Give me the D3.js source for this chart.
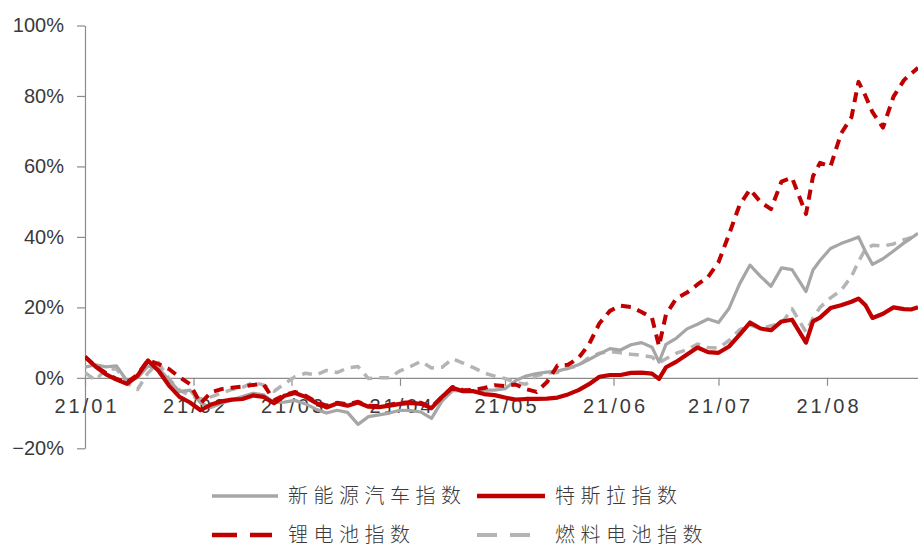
<!DOCTYPE html>
<html>
<head>
<meta charset="utf-8">
<script src="https://cdn.jsdelivr.net/npm/d3@7"></script>
<style>
  html, body { margin: 0; padding: 0; background: #fff; }
  svg { display: block; }
</style>
</head>
<body>
<svg id="chart" width="918" height="551"></svg>
<script>
// Sample dates (2021, MM-DD)
const dates = [
  "01-01","01-04","01-07","01-10","01-13","01-16","01-19","01-22","01-25","01-28","01-31",
  "02-03","02-06","02-09","02-12","02-15","02-18","02-21","02-24","02-27",
  "03-02","03-05","03-08","03-11","03-14","03-17","03-20","03-23","03-26","03-29",
  "04-01","04-04","04-07","04-10","04-13","04-16","04-19","04-22","04-25","04-28",
  "05-01","05-04","05-07","05-10","05-13","05-16","05-19","05-22","05-25","05-28","05-31",
  "06-03","06-06","06-09","06-12","06-14","06-16","06-19","06-22","06-25","06-28",
  "07-01","07-04","07-07","07-10","07-13","07-16","07-19","07-22","07-26","07-28","07-30",
  "08-02","08-05","08-08","08-10","08-12","08-14","08-17","08-20","08-23","08-25","08-27"
];

// Cumulative change, %
const nevIndex = [
  3, 3.7, 3.1, 3.4, -0.9, 0, 3.3, 2.7, -0.6, -3.9, -3.5,
  -7.1, -8.4, -7.2, -6.2, -5.3, -4.4, -4.8, -7.0, -6.9,
  -6.4, -7.4, -8.9, -10.0, -9.2, -9.8, -13.2, -11.0, -10.5, -10.0,
  -9.2, -9.3, -9.7, -11.5, -6.6, -3.6, -3.8, -3.9, -3.5, -3.5,
  -3.1, -0.8, 0.5, 1.2, 1.6, 1.9, 2.7, 3.7, 5.2, 6.8, 8.3,
  7.9, 9.4, 10.0, 8.7, 4.5, 9.5, 11.3, 13.9, 15.2, 16.7,
  15.7, 19.7, 26.6, 32.0, 28.8, 26.0, 31.2, 30.7, 24.5, 30.6, 33.3,
  36.7, 38.1, 39.2, 40.0, 35.8, 32.2, 33.8, 36.0, 38.3, 39.6, 41.0
];
const teslaIndex = [
  6, 3.2, 1.0, -0.5, -1.7, 0.6, 4.9, 2.0, -2.2, -5.4, -7.0,
  -9.2, -7.6, -6.7, -6.2, -6.0, -5.0, -5.4, -7.2, -5.1,
  -4.3, -5.4, -7.1, -8.4, -7.3, -7.9, -7.0, -8.2, -8.3, -7.9,
  -7.4, -7.1, -7.4, -8.6, -5.4, -2.8, -3.8, -3.8, -4.6, -4.9,
  -5.6, -6.2, -6.0, -6.0, -5.9, -5.6, -4.7, -3.5, -1.8, 0.3, 0.8,
  0.8, 1.4, 1.5, 1.2, -0.3, 3.0, 4.6, 6.6, 8.6, 7.3,
  7.1, 8.9, 12.2, 15.7, 14.0, 13.5, 16.0, 16.5, 10.0, 16.0, 17.1,
  19.8, 20.6, 21.6, 22.5, 20.6, 17.0, 18.2, 20.0, 19.5, 19.4, 20.0
];
const lithiumIndex = [
  6, 3.3, 1.3, -0.3, -1.3, 0.9, 5.0, 3.9, 2.5, 0.2, -1.8,
  -7.3, -4.1, -3.2, -2.8, -2.5, -2.0, -1.8, -6.4, -4.9,
  -4.0, -5.1, -6.8, -7.9, -7.1, -7.5, -6.8, -7.9, -8.0, -7.6,
  -7.1, -6.9, -7.1, -8.3, -5.4, -2.6, -3.5, -3.4, -2.9, -2.1,
  -2.3, -1.9, -3.2, -4.0, -1.2, 3.5, 3.7, 5.6, 9.5, 15.5, 19.0,
  20.5, 20.1, 18.7, 17.0, 9.0, 18.0, 22.6, 24.2, 26.5, 28.6,
  32.8, 40.7, 49.0, 53.5, 49.9, 47.9, 55.7, 56.8, 46.5, 57.2, 61.0,
  60.0, 69.3, 74.0, 84.0, 80.0, 75.4, 71.0, 79.8, 84.5, 86.3, 88.0
];
const fuelCellIndex = [
  1.5, -0.7, 2.5, 2.5, -1.5, -3.3, 1.4, 4.3, -0.3, -3.5, -5.0,
  -6.0, -5.4, -4.3, -3.3, -2.7, -1.3, -2.0, -3.8, -1.7,
  0.3, 1.3, 0.8, 2.1, 1.5, 2.8, 3.2, -0.2, 0.0, 0.0,
  2.0, 3.2, 4.7, 2.8, 3.0, 5.4, 4.2, 2.9, 1.4, 0.5,
  -0.2, -1.3, -1.8, 0.6, 1.3, 1.5, 2.7, 3.4, 5.8, 7.0, 7.5,
  7.1, 6.7, 6.4, 5.9, 4.3, 5.4, 7.0, 8.0, 9.6, 8.6,
  8.4, 10.6, 13.6, 15.0, 14.0, 14.8, 15.4, 19.6, 13.0, 17.0, 20.0,
  22.7, 24.8, 28.8, 33.0, 36.6, 37.6, 37.4, 38.0, 39.2, 39.8, 41.0
];

const yTickValues = [-20, 0, 20, 40, 60, 80, 100];
const seriesNames = ["新能源汽车指数", "特斯拉指数", "锂电池指数", "燃料电池指数"];

const parseDate = d3.timeParse("%Y-%m-%d");
const dayList = dates.map(s => parseDate("2021-" + s));

const margin = { left: 85, right: 0, top: 25.5, bottomY: 448.3 };
const width = 918;

const x = d3.scaleTime().domain(d3.extent(dayList)).range([margin.left, width - margin.right]);
const y = d3.scaleLinear().domain([-20, 100]).range([margin.bottomY, margin.top]);

const svg = d3.select("#chart");
const axisColor = "#8c8c8c";
const textColor = "#3a3a3a";
const red = "#c00000";
const graySolid = "#a6a6a6";
const grayDash = "#b4b4b4";

// Y axis
const yAxis = svg.append("g")
  .attr("transform", `translate(${margin.left},0)`)
  .call(d3.axisLeft(y)
    .tickValues(yTickValues)
    .tickSize(8)
    .tickSizeOuter(0)
    .tickPadding(13)
    .tickFormat(d => (d < 0 ? "\u2212" : "") + Math.abs(d) + "%"));
yAxis.select(".domain").attr("stroke", axisColor).attr("stroke-width", 1.2);
yAxis.selectAll(".tick line").attr("stroke", axisColor).attr("stroke-width", 1.2);
yAxis.selectAll(".tick text")
  .attr("fill", textColor)
  .style("font-family", "'Liberation Sans', Arial, sans-serif")
  .style("font-size", "20px");

// X axis along the zero line
const xAxis = svg.append("g")
  .attr("transform", `translate(0,${y(0)})`)
  .call(d3.axisBottom(x)
    .ticks(d3.timeMonth.every(1))
    .tickFormat(d3.timeFormat("%y/%m"))
    .tickSize(8)
    .tickSizeOuter(0)
    .tickPadding(13));
xAxis.select(".domain").attr("stroke", axisColor).attr("stroke-width", 1.2);
xAxis.selectAll(".tick line").attr("stroke", axisColor).attr("stroke-width", 1.2);
xAxis.selectAll(".tick text")
  .attr("fill", textColor)
  .attr("dx", "1.5px")
  .style("font-family", "'Liberation Sans', Arial, sans-serif")
  .style("font-size", "20px")
  .style("letter-spacing", "3px");

// Series lines
const series = [
  { name: seriesNames[3], values: fuelCellIndex, color: grayDash, width: 3.5, dash: "10,7", legendDash: "20,13" },
  { name: seriesNames[0], values: nevIndex, color: graySolid, width: 3.2, dash: null, legendDash: null },
  { name: seriesNames[2], values: lithiumIndex, color: red, width: 4, dash: "10,7", legendDash: "25,13" },
  { name: seriesNames[1], values: teslaIndex, color: red, width: 4.2, dash: null, legendDash: null }
];

const line = d3.line()
  .x((d, i) => x(dayList[i]))
  .y(d => y(d))
  .curve(d3.curveLinear);

svg.append("defs").append("clipPath").attr("id", "plot-clip")
  .append("rect").attr("x", margin.left).attr("y", 0).attr("width", width - margin.left).attr("height", 470);

const lines = svg.append("g").attr("clip-path", "url(#plot-clip)");
series.forEach(s => {
  lines.append("path")
    .datum(s.values)
    .attr("d", line)
    .attr("fill", "none")
    .attr("stroke", s.color)
    .attr("stroke-width", s.width)
    .attr("stroke-linejoin", "round")
    .attr("stroke-dasharray", s.dash);
});

// Legend (two rows)
const byName = Object.fromEntries(series.map(s => [s.name, s]));
const legendItems = [
  { name: seriesNames[0], x1: 212, x2: 278, tx: 288, ty: 496 },
  { name: seriesNames[1], x1: 477, x2: 545, tx: 555, ty: 496 },
  { name: seriesNames[2], x1: 212, x2: 272, tx: 288, ty: 535 },
  { name: seriesNames[3], x1: 477, x2: 531, tx: 555, ty: 535 }
];
const legend = svg.append("g");
legendItems.forEach(it => {
  const s = byName[it.name];
  legend.append("line")
    .attr("x1", it.x1).attr("x2", it.x2)
    .attr("y1", it.ty).attr("y2", it.ty)
    .attr("stroke", s.color)
    .attr("stroke-width", s.width + 0.5)
    .attr("stroke-dasharray", s.legendDash);
  legend.append("text")
    .attr("x", it.tx).attr("y", it.ty)
    .attr("dy", "0.36em")
    .attr("fill", textColor)
    .style("font-family", "'Noto Sans CJK SC', 'Noto Sans', sans-serif")
    .style("font-weight", 300)
    .style("font-size", "20px")
    .style("letter-spacing", "5.5px")
    .text(it.name);
});
</script>
</body>
</html>
